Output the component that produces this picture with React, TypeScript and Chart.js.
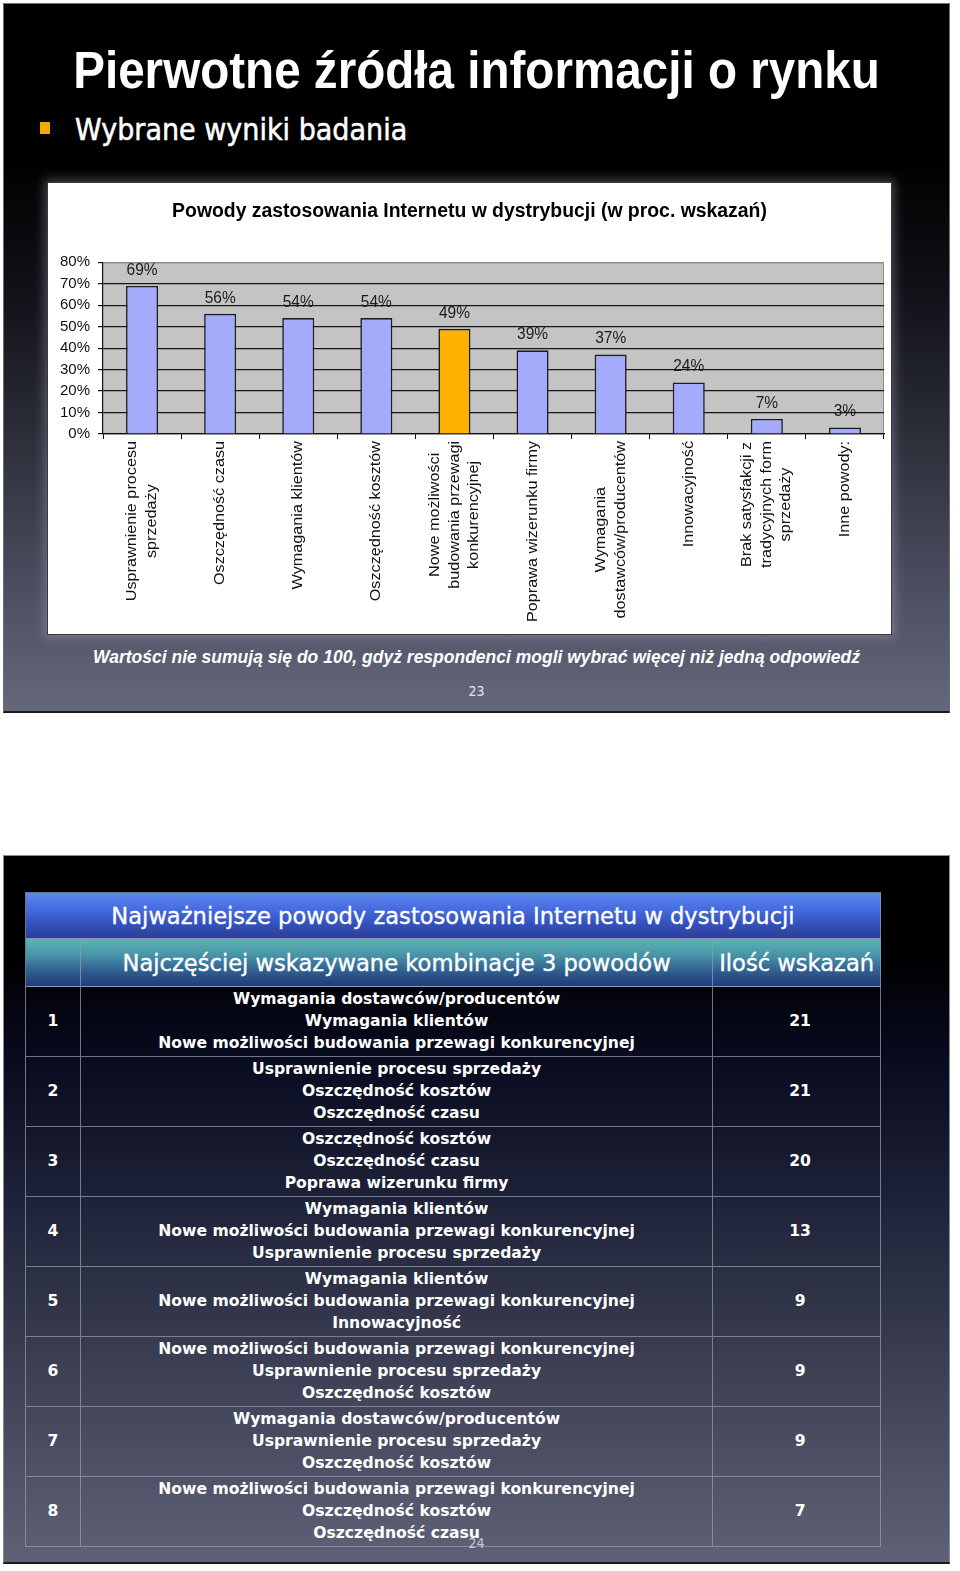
import React, { useEffect, useRef } from 'react';
import { Chart, registerables } from 'chart.js';

Chart.register(...registerables);

// ---------- DATA ----------
const chartTitle = 'Powody zastosowania Internetu w dystrybucji (w proc. wskazań)';
const categories: string[][] = [
  ['Usprawnienie procesu', 'sprzedaży'],
  ['Oszczędność czasu'],
  ['Wymagania klientów'],
  ['Oszczędność kosztów'],
  ['Nowe możliwości', 'budowania przewagi', 'konkurencyjnej'],
  ['Poprawa wizerunku firmy'],
  ['Wymagania', 'dostawców/producentów'],
  ['Innowacyjność'],
  ['Brak satysfakcji z', 'tradycyjnych form', 'sprzedaży'],
  ['Inne powody:'],
];
const values: number[] = [69, 56, 54, 54, 49, 39, 37, 24, 7, 3];
const yMin = 0;
const yMax = 80;
const yStep = 10;
const highlightIndex = 4;

const tableTitle = 'Najważniejsze powody zastosowania Internetu w dystrybucji';
const tableHeaders: string[] = ['', 'Najczęściej wskazywane kombinacje 3 powodów', 'Ilość wskazań'];
const ranks: string[] = ['1', '2', '3', '4', '5', '6', '7', '8'];
const combinations: string[][] = [
  ['Wymagania dostawców/producentów', 'Wymagania klientów', 'Nowe możliwości budowania przewagi konkurencyjnej'],
  ['Usprawnienie procesu sprzedaży', 'Oszczędność kosztów', 'Oszczędność czasu'],
  ['Oszczędność kosztów', 'Oszczędność czasu', 'Poprawa wizerunku firmy'],
  ['Wymagania klientów', 'Nowe możliwości budowania przewagi konkurencyjnej', 'Usprawnienie procesu sprzedaży'],
  ['Wymagania klientów', 'Nowe możliwości budowania przewagi konkurencyjnej', 'Innowacyjność'],
  ['Nowe możliwości budowania przewagi konkurencyjnej', 'Usprawnienie procesu sprzedaży', 'Oszczędność kosztów'],
  ['Wymagania dostawców/producentów', 'Usprawnienie procesu sprzedaży', 'Oszczędność kosztów'],
  ['Nowe możliwości budowania przewagi konkurencyjnej', 'Oszczędność kosztów', 'Oszczędność czasu'],
];
const counts: number[] = [21, 21, 20, 13, 9, 9, 9, 7];

// ---------- STYLE ----------
const SANS = '"Liberation Sans", Arial, Helvetica, sans-serif';
const DEJA = '"DejaVu Sans", Verdana, sans-serif';
const BAR_COLOR = '#a4abfb';
const HIGHLIGHT_COLOR = '#ffb300';
const PLOT_BG = '#c4c4c4';

const plotBgPlugin = {
  id: 'plotBg',
  beforeDraw(chart: any) {
    const { ctx, chartArea: a } = chart;
    ctx.save();
    ctx.fillStyle = PLOT_BG;
    ctx.fillRect(a.left, a.top, a.right - a.left, a.bottom - a.top);
    ctx.strokeStyle = '#8c8c8c';
    ctx.lineWidth = 1;
    ctx.beginPath();
    ctx.moveTo(a.left, a.top + 0.5);
    ctx.lineTo(a.right - 0.5, a.top + 0.5);
    ctx.lineTo(a.right - 0.5, a.bottom);
    ctx.stroke();
    ctx.restore();
  },
};

const valueLabelPlugin = {
  id: 'valueLabels',
  afterDatasetsDraw(chart: any) {
    const { ctx } = chart;
    const meta = chart.getDatasetMeta(0);
    ctx.save();
    ctx.font = `15.5px ${SANS}`;
    ctx.fillStyle = '#1a1a1a';
    ctx.textAlign = 'center';
    ctx.textBaseline = 'middle';
    meta.data.forEach((el: any, i: number) => {
      ctx.save();
      ctx.translate(el.x, el.y - 16);
      ctx.scale(1, 1.12);
      ctx.fillText(values[i] + '%', 0, 0);
      ctx.restore();
    });
    ctx.restore();
  },
};

const xLabelPlugin = {
  id: 'xLabels',
  afterDraw(chart: any) {
    const { ctx, chartArea: a } = chart;
    const xs = chart.scales.x;
    const LH = 19.5;
    const SX = 1.08;
    ctx.save();
    ctx.font = `15px ${SANS}`;
    ctx.fillStyle = '#111';
    ctx.textAlign = 'center';
    ctx.textBaseline = 'middle';
    categories.forEach((lines, i) => {
      const px = xs.getPixelForValue(i);
      const w = Math.max(...lines.map((l) => ctx.measureText(l).width));
      ctx.save();
      ctx.translate(px, a.bottom + 7);
      ctx.rotate(-Math.PI / 2);
      ctx.scale(SX, 1);
      lines.forEach((l, k) => {
        ctx.fillText(l, -w / 2, (k - (lines.length - 1) / 2) * LH);
      });
      ctx.restore();
    });
    ctx.restore();
  },
};

function BarChart() {
  const ref = useRef<HTMLCanvasElement | null>(null);
  useEffect(() => {
    if (!ref.current) return;
    const chart = new Chart(ref.current, {
      type: 'bar',
      data: {
        labels: categories.map((c) => c.join(' ')),
        datasets: [
          {
            data: values,
            backgroundColor: values.map((_, i) => (i === highlightIndex ? HIGHLIGHT_COLOR : BAR_COLOR)),
            borderColor: '#1c1c24',
            borderWidth: 1.6,
            barPercentage: 0.41,
            categoryPercentage: 1,
          },
        ],
      },
      options: {
        animation: false,
        responsive: false,
        maintainAspectRatio: false,
        devicePixelRatio: 1,
        layout: { padding: { left: 7, right: 7, top: 0, bottom: 0 } },
        plugins: {
          legend: { display: false },
          tooltip: { enabled: false },
          title: {
            display: true,
            text: chartTitle,
            color: '#000',
            font: { family: SANS, size: 19.4, weight: 'bold' },
            padding: { top: 17, bottom: 39 },
          },
        },
        scales: {
          x: {
            grid: {
              display: true,
              drawOnChartArea: false,
              drawTicks: true,
              tickLength: 5,
              color: '#111',
              offset: true,
            },
            border: { display: true, color: '#111', width: 1.2 },
            ticks: { display: false },
            afterFit: (s: any) => {
              s.height = 200;
            },
          },
          y: {
            min: yMin,
            max: yMax,
            ticks: {
              stepSize: yStep,
              callback: (v: any) => v + '%',
              color: '#111',
              font: { family: SANS, size: 15 },
              padding: 8,
            },
            grid: {
              color: (c: any) => (c.tick && c.tick.value === yMax ? '#8c8c8c' : '#161616'),
              tickColor: '#111',
              lineWidth: 1.2,
              tickLength: 5,
            },
            border: { display: true, color: '#111', width: 1.2 },
            afterFit: (s: any) => {
              s.width = 48;
            },
          },
        },
      },
      plugins: [plotBgPlugin, valueLabelPlugin, xLabelPlugin],
    });
    return () => chart.destroy();
  }, []);
  return <canvas ref={ref} width={843} height={451} style={{ display: 'block', width: 843, height: 451 }} />;
}

const abs = (l: number, t: number, w?: number, h?: number): React.CSSProperties => ({
  position: 'absolute',
  left: l,
  top: t,
  ...(w !== undefined ? { width: w } : {}),
  ...(h !== undefined ? { height: h } : {}),
});

const COL_W = [55, 633, 168];
const GRID = '1px solid rgba(150,154,172,0.75)';
const HEAD_FONT = `22.6px ${DEJA}`;

function Table() {
  return (
    <div style={{ ...abs(21, 36, 856), borderLeft: GRID, borderTop: GRID, boxSizing: 'border-box' }}>
      <div
        style={{
          height: 46,
          borderRight: GRID,
          borderBottom: GRID,
          boxSizing: 'border-box',
          background: 'linear-gradient(to bottom, #6088f0 0%, #456ce0 35%, #3450bc 70%, #2b3f98 100%)',
          color: '#fff',
          font: HEAD_FONT,
          WebkitTextStroke: '0.35px #fff',
          display: 'flex',
          alignItems: 'center',
          justifyContent: 'center',
        }}
      >
        {tableTitle}
      </div>
      <div style={{ display: 'flex', height: 48 }}>
        {tableHeaders.map((h, i) => (
          <div
            key={i}
            style={{
              width: COL_W[i],
              height: 48,
              borderRight: GRID,
              borderBottom: GRID,
              boxSizing: 'border-box',
              background: 'linear-gradient(to bottom, #5cb4b4 0%, #4793a8 35%, #2f5c8e 70%, #223a7c 100%)',
              color: '#fff',
              font: HEAD_FONT,
              WebkitTextStroke: '0.35px #fff',
              display: 'flex',
              alignItems: 'center',
              justifyContent: 'center',
              whiteSpace: 'nowrap',
            }}
          >
            {h}
          </div>
        ))}
      </div>
      {ranks.map((r, ri) => (
        <div key={ri} style={{ display: 'flex', height: 70 }}>
          {[r, combinations[ri], String(counts[ri])].map((c, ci) => (
            <div
              key={ci}
              style={{
                width: COL_W[ci],
                height: 70,
                borderRight: GRID,
                borderBottom: GRID,
                boxSizing: 'border-box',
                color: '#fff',
                font: `bold 15.6px ${DEJA}`,
                lineHeight: '21.7px',
                paddingLeft: ci === 2 ? 7 : 0,
                paddingTop: 1,
                display: 'flex',
                flexDirection: 'column',
                alignItems: 'center',
                justifyContent: 'center',
                textAlign: 'center',
                whiteSpace: 'nowrap',
              }}
            >
              {Array.isArray(c) ? c.map((l, li) => <div key={li}>{l}</div>) : c}
            </div>
          ))}
        </div>
      ))}
    </div>
  );
}

export default function App() {
  return (
    <div style={{ ...abs(0, 0, 960, 1571), background: '#fff', overflow: 'hidden' }}>
      {/* Slide 1 */}
      <div
        style={{
          ...abs(3, 3, 947, 710),
          boxSizing: 'border-box',
          border: '1px solid #6c6c72',
          borderBottom: '2px solid #1c1c20',
          background:
            'linear-gradient(to bottom, #000 0%, #000 22%, #101117 40%, #2a2c37 60%, #4f5264 85%, #65687b 100%)',
          overflow: 'hidden',
        }}
      >
        <div
          style={{
            ...abs(0, 42, 945),
            textAlign: 'center',
            color: '#fff',
            font: `bold 47.6px ${SANS}`,
            lineHeight: '47px',
            transform: 'scaleY(1.1)',
            whiteSpace: 'nowrap',
          }}
        >
          Pierwotne źródła informacji o rynku
        </div>
        <div style={{ ...abs(36, 118, 10, 12), background: '#f6a800' }} />
        <div
          style={{
            ...abs(71, 112),
            color: '#fff',
            font: `27px ${DEJA}`,
            WebkitTextStroke: '0.5px #fff',
            lineHeight: '28px',
            transform: 'scaleY(1.12)',
            whiteSpace: 'nowrap',
          }}
        >
          Wybrane wyniki badania
        </div>
        <div
          style={{
            ...abs(43, 178, 843, 451),
            border: '1px solid #3a3a3a',
            background: '#fff',
            boxShadow: '0 0 10px 3px rgba(200,200,225,0.3)',
          }}
        >
          <BarChart />
        </div>
        <div
          style={{
            ...abs(0, 643, 945),
            textAlign: 'center',
            color: '#fff',
            font: `italic bold 17.5px ${SANS}`,
            lineHeight: '20px',
            transform: 'scaleY(1.08)',
            whiteSpace: 'nowrap',
          }}
        >
          Wartości nie sumują się do 100, gdyż respondenci mogli wybrać więcej niż jedną odpowiedź
        </div>
        <div
          style={{
            ...abs(0, 678, 945),
            textAlign: 'center',
            color: '#e4e4ea',
            font: `14px "DejaVu Sans Condensed", "Liberation Sans Narrow", ${SANS}`,
            lineHeight: '18px',
          }}
        >
          23
        </div>
      </div>

      {/* Slide 2 */}
      <div
        style={{
          ...abs(3, 855, 947, 709),
          boxSizing: 'border-box',
          border: '1px solid #8a8a90',
          borderBottom: '2px solid #1c1c20',
          background:
            'linear-gradient(to bottom, #000 0%, #000 14%, #080a1e 28%, #20243a 50%, #404357 75%, #5f6276 100%)',
          overflow: 'hidden',
        }}
      >
        <Table />
        <div
          style={{
            ...abs(0, 678, 945),
            textAlign: 'center',
            color: '#c8c8d0',
            font: `14px "DejaVu Sans Condensed", "Liberation Sans Narrow", ${SANS}`,
            lineHeight: '18px',
          }}
        >
          24
        </div>
      </div>
    </div>
  );
}
